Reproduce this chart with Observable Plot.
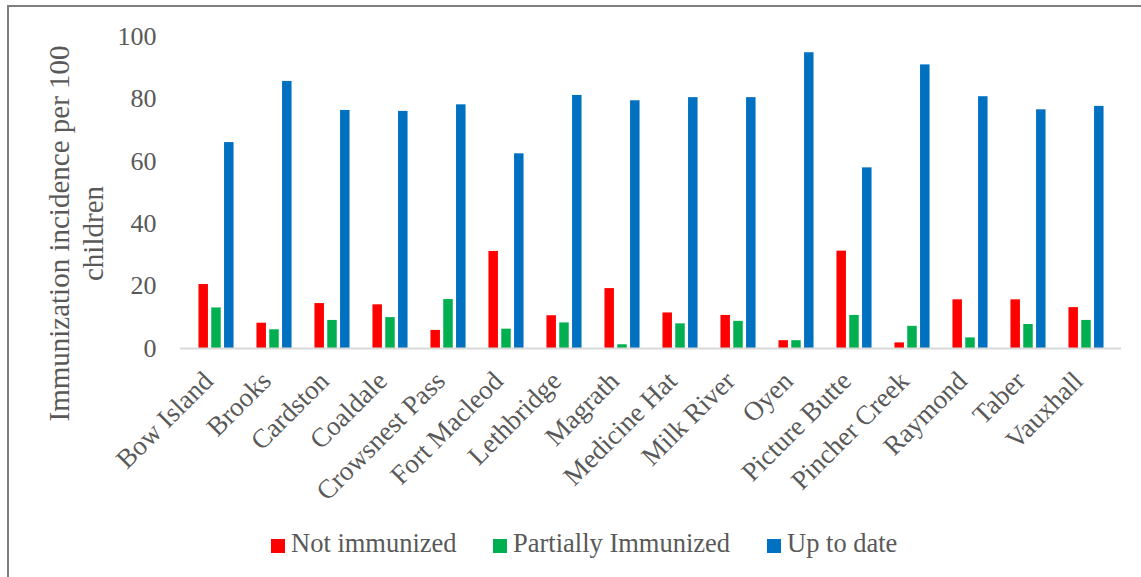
<!DOCTYPE html>
<html>
<head>
<meta charset="utf-8">
<script src="https://cdn.jsdelivr.net/npm/d3@7"></script>
<script src="https://cdn.jsdelivr.net/npm/@observablehq/plot@0.6"></script>
<style>
  html, body { margin: 0; padding: 0; background: #fff; overflow: hidden; }
  #wrap { position: relative; width: 1141px; height: 577px; }
  #border { position: absolute; left: 7px; top: 5px; width: 1300px; height: 700px;
            border-left: 2px solid #7f7f7f; border-top: 2px solid #7f7f7f; pointer-events: none; }
  #legend { position: relative; height: 57px; font-family: "Liberation Serif", serif; font-size: 26.5px; color: #595959; }
  .item { position: absolute; top: 7px; height: 32px; line-height: 32px; white-space: nowrap; }
  .sw { display: inline-block; width: 14px; height: 14px; margin-right: 6px; vertical-align: -1px; }
</style>
</head>
<body>
<div id="wrap">
  <div id="chart"></div>
  <div id="legend"></div>
  <div id="border"></div>
</div>
<script>
const towns = ["Bow Island","Brooks","Cardston","Coaldale","Crowsnest Pass","Fort Macleod","Lethbridge","Magrath","Medicine Hat","Milk River","Oyen","Picture Butte","Pincher Creek","Raymond","Taber","Vauxhall"];
const notImmunized = [20.5, 8.1, 14.4, 14.0, 5.8, 31.1, 10.5, 19.2, 11.4, 10.6, 2.5, 31.2, 1.8, 15.6, 15.6, 13.1];
const partiallyImmunized = [13.0, 6.0, 9.0, 9.9, 15.7, 6.2, 8.2, 1.2, 7.9, 8.7, 2.5, 10.6, 7.1, 3.4, 7.7, 9.0];
const upToDate = [66.0, 85.6, 76.3, 76.0, 78.1, 62.4, 81.1, 79.4, 80.4, 80.4, 94.8, 57.9, 90.9, 80.7, 76.5, 77.6];
const seriesNames = ["Not immunized", "Partially Immunized", "Up to date"];
const seriesColors = ["#FF0000", "#00B050", "#0070C0"];
const yTicks = [0, 20, 40, 60, 80, 100];
const yTitle = "Immunization incidence per 100\nchildren";

const seriesValues = [notImmunized, partiallyImmunized, upToDate];
const tables = seriesValues.map((vals, s) => towns.map((t, i) => ({town: t, series: seriesNames[s], value: vals[i]})));

const barW = 10.3, stepW = 12.8;
const groupW = (1121 - 180) / towns.length;
const inset = (groupW - barW) / 2;

const chart = Plot.plot({
  width: 1141,
  height: 520,
  marginLeft: 180,
  marginRight: 20,
  marginTop: 36,
  marginBottom: 172,
  style: {fontFamily: "Liberation Serif, serif", fontSize: "26px", color: "#595959", background: "transparent"},
  x: {domain: towns, padding: 0, label: null},
  y: {domain: [0, 100], label: null},
  color: {domain: seriesNames, range: seriesColors},
  marks: [
    ...tables.map((tbl, s) => Plot.barY(tbl, {
      x: "town", y: "value", fill: "series",
      insetLeft: inset, insetRight: inset, dx: (s - 1) * stepW
    })),
    Plot.ruleY([0], {stroke: "#d9d9d9", strokeWidth: 2}),
    Plot.axisY({ticks: yTicks, tickSize: 0, tickPadding: 24, label: null, fill: "#595959", fontSize: 26}),
    Plot.axisX({tickSize: 0, tickRotate: -45, tickPadding: 14, dx: -8, dy: 14, label: null, fill: "#595959", fontSize: 27}),
    Plot.text([yTitle], {frameAnchor: "left", dx: -105, dy: 41, rotate: -90, fontSize: 29, fill: "#595959", lineHeight: 1.17, textAnchor: "middle"})
  ]
});
document.getElementById("chart").appendChild(chart);

const legend = document.getElementById("legend");
const lefts = [271, 493, 767];
seriesNames.forEach((name, i) => {
  const it = document.createElement("div");
  it.className = "item";
  it.style.left = lefts[i] + "px";
  const sw = document.createElement("span");
  sw.className = "sw";
  sw.style.background = seriesColors[i];
  it.appendChild(sw);
  it.appendChild(document.createTextNode(name));
  legend.appendChild(it);
});
</script>
</body>
</html>
